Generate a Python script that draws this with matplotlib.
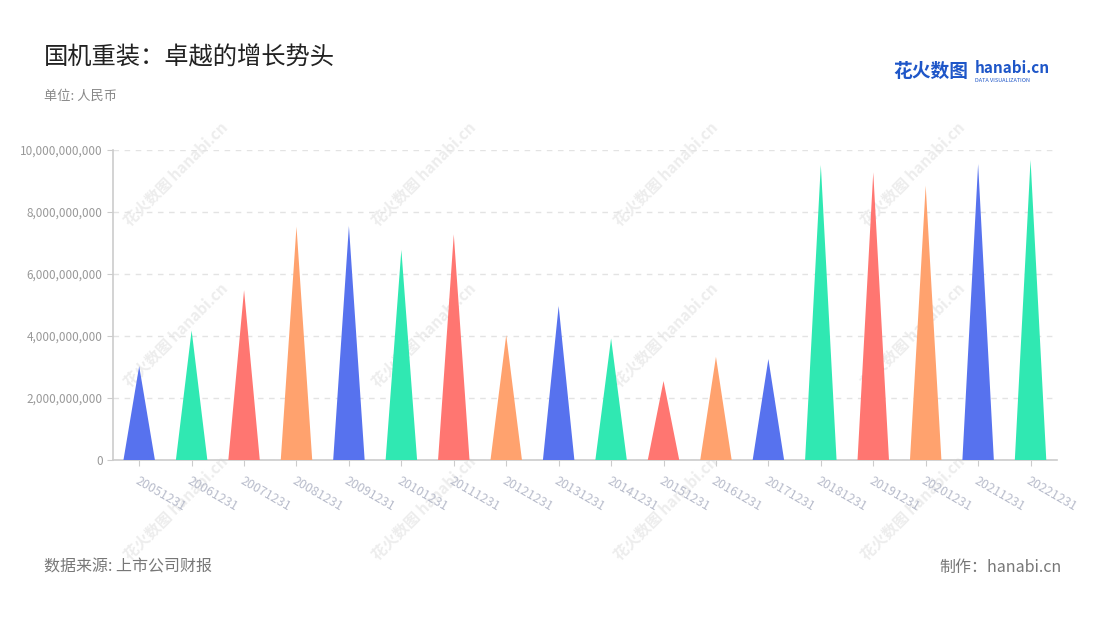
"""Triangle bar chart: 国机重装 yearly values."""

import matplotlib
matplotlib.use("Agg")
import matplotlib.pyplot as plt
from matplotlib.ticker import FuncFormatter

plt.rcParams["font.family"] = ["Noto Sans CJK SC", "DejaVu Sans"]

dates = ["20051231", "20061231", "20071231", "20081231", "20091231", "20101231",
         "20111231", "20121231", "20131231", "20141231", "20151231", "20161231",
         "20171231", "20181231", "20191231", "20201231", "20211231", "20221231"]
values = [3.03e9, 4.18e9, 5.48e9, 7.53e9, 7.55e9, 6.78e9,
          7.28e9, 4.03e9, 4.97e9, 3.92e9, 2.55e9, 3.33e9,
          3.26e9, 9.52e9, 9.28e9, 8.85e9, 9.55e9, 9.68e9]
palette = ["#5772EE", "#30E8B2", "#FF7671", "#FFA26E"]

fig = plt.figure(figsize=(11, 6.2), dpi=100)

# watermark, behind the chart
for wx in [0.16, 0.385, 0.605, 0.83]:
    for wy in [0.72, 0.46, 0.18]:
        fig.text(wx, wy, "花火数图 hanabi.cn", rotation=45, fontsize=11,
                 color="#EDEDED", ha="center", va="center",
                 fontweight="bold", zorder=0)

ax = fig.add_axes([0.1027, 0.258, 0.858, 0.5])
ax.set_facecolor("none")
ax.set_zorder(1)

w = 0.6
for i, v in enumerate(values):
    ax.fill([i - w / 2, i, i + w / 2], [0, v, 0],
            color=palette[i % len(palette)], lw=0, zorder=3)

ax.set_xlim(-0.5, len(dates) - 0.5)
ax.set_ylim(0, 1e10)
ax.set_yticks([0, 2e9, 4e9, 6e9, 8e9, 1e10])
ax.yaxis.set_major_formatter(FuncFormatter(lambda y, _: f"{int(y):,}"))
ax.set_xticks(range(len(dates)))
ax.set_xticklabels(dates, rotation=-30, ha="left", rotation_mode="anchor",
                   color="#B8BCCB", fontsize=9)
ax.tick_params(axis="y", length=4, color="#CCCCCC", labelcolor="#999999",
               labelsize=8.5)
ax.tick_params(axis="x", length=4, color="#CCCCCC", pad=6)
ax.grid(axis="y", color="#E3E3E3", ls=(0, (4, 4)), lw=1, zorder=0)
for s in ["top", "right"]:
    ax.spines[s].set_visible(False)
for s in ["left", "bottom"]:
    ax.spines[s].set_color("#CCCCCC")
    ax.spines[s].set_linewidth(1.2)

fig.text(0.04, 0.908, "国机重装：卓越的增长势头", fontsize=17.5, color="#222222",
         va="center")
fig.text(0.04, 0.845, "单位: 人民币", fontsize=9.5, color="#888888",
         va="center")
fig.text(0.04, 0.085, "数据来源: 上市公司财报", fontsize=11.5, color="#777777",
         va="center")
fig.text(0.965, 0.085, "制作：hanabi.cn", fontsize=11.5, color="#777777",
         va="center", ha="right")

# logo
fig.text(0.812, 0.884, "花火数图", fontsize=13.5, color="#1E56C8",
         fontweight="bold", va="center")
fig.text(0.886, 0.89, "hanabi.cn", fontsize=11, color="#1E56C8",
         fontweight="bold", va="center")
fig.text(0.886, 0.87, "DATA VISUALIZATION", fontsize=4, color="#1E56C8",
         va="center")

fig.savefig("out.png", dpi=100)
